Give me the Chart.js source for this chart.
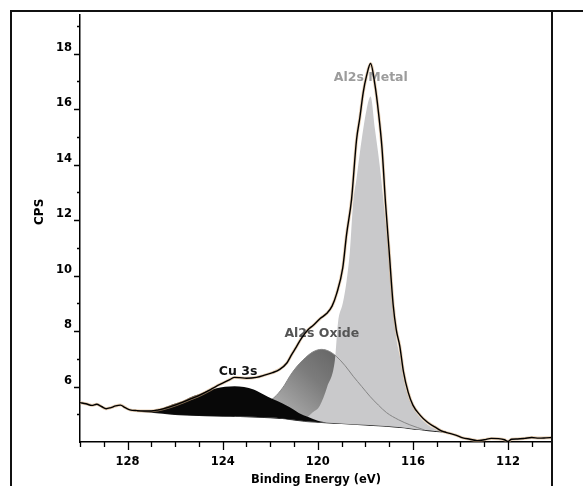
<!DOCTYPE html>
<html>
<head>
<meta charset="utf-8">
<script src="https://cdn.jsdelivr.net/npm/chart.js@4.4.1/dist/chart.umd.min.js"></script>
<style>
  html, body { margin: 0; padding: 0; background: #fff; }
  canvas { display: block; }
</style>
</head>
<body>
<canvas id="xps" width="583" height="486"></canvas>
<script>
// binding energy (eV) against counts (CPS)
const envelopeEV = [130.0, 129.75, 129.5, 129.3, 129.1, 128.9, 128.7, 128.5, 128.3, 128.1, 127.9, 127.6, 127.3, 127.0,
  126.7, 126.4, 126.1, 125.7, 125.3, 124.9, 124.6, 124.27, 124.0, 123.7, 123.5, 123.28, 123.0, 122.58, 122.2, 121.9,
  121.6, 121.3, 121.1, 120.9, 120.69, 120.41, 120.2, 119.9, 119.63, 119.4, 119.21, 118.95, 118.79, 118.58, 118.37,
  118.23, 118.09, 117.95, 117.78, 117.6, 117.45, 117.3, 117.15, 117.0, 116.83, 116.7, 116.55, 116.4, 116.2, 116.0,
  115.7, 115.4, 115.0, 114.8, 114.5, 114.2, 113.9, 113.6, 113.3, 113.0, 112.7, 112.4, 112.15, 112.0, 111.85, 111.6,
  111.3, 111.0, 110.7, 110.4, 110.15];
const envelopeCPS = [5.42, 5.38, 5.32, 5.36, 5.28, 5.2, 5.24, 5.3, 5.33, 5.24, 5.16, 5.13, 5.12, 5.12,
  5.16, 5.22, 5.3, 5.43, 5.57, 5.72, 5.85, 6.01, 6.12, 6.25, 6.33, 6.32, 6.3, 6.33, 6.42, 6.5,
  6.62, 6.85, 7.15, 7.43, 7.74, 8.05, 8.2, 8.45, 8.63, 8.9, 9.34, 10.28, 11.48, 12.75, 14.9,
  15.7, 16.6, 17.2, 17.65, 16.9, 15.9, 14.6, 12.6, 10.9, 8.95, 8.05, 7.45, 6.55, 5.8, 5.33,
  4.97, 4.72, 4.5, 4.4, 4.32, 4.25, 4.15, 4.1, 4.05, 4.08, 4.13, 4.12, 4.08, 4.02, 4.1, 4.11,
  4.13, 4.16, 4.14, 4.15, 4.16];

const backgroundEV = [127.6, 127.0, 126.5, 126.0, 125.0, 124.0, 123.0, 122.0, 121.5, 121.0, 120.5, 120.0, 119.0,
  118.0, 117.0, 116.5, 116.0, 115.5, 115.0, 114.6];
const backgroundCPS = [5.12, 5.08, 5.04, 5.0, 4.96, 4.94, 4.92, 4.88, 4.85, 4.8, 4.75, 4.72, 4.67,
  4.62, 4.57, 4.53, 4.48, 4.43, 4.39, 4.36];

const cuEV = [127.6, 127.0, 126.6, 126.1, 125.68, 125.4, 125.0, 124.69, 124.3, 123.9, 123.5, 123.1, 122.7, 122.3,
  121.9, 121.5, 121.18, 120.8, 120.4, 120.0, 119.5];
const cuCPS = [5.12, 5.14, 5.2, 5.36, 5.48, 5.6, 5.72, 5.83, 5.93, 5.99, 6.01, 5.98, 5.89, 5.72,
  5.55, 5.4, 5.25, 5.05, 4.9, 4.77, 4.69];

const oxideEV = [123.5, 123.28, 123.0, 122.6, 122.2, 121.74, 121.4, 121.18, 120.9, 120.62, 120.2, 119.84, 119.5,
  119.21, 118.85, 118.51, 118.15, 117.81, 117.45, 117.11, 116.6, 116.13, 115.5];
const oxideCPS = [4.93, 5.0, 5.07, 5.2, 5.38, 5.68, 6.05, 6.37, 6.7, 6.96, 7.25, 7.34, 7.26,
  7.08, 6.75, 6.37, 6.0, 5.65, 5.33, 5.06, 4.8, 4.62, 4.43];

const metalEV = [120.6, 120.21, 119.92, 119.6, 119.28, 119.15, 118.95, 118.79, 118.65, 118.51, 118.37, 118.23,
  117.95, 117.78, 117.6, 117.4, 117.25, 117.1, 116.95, 116.83, 116.69, 116.55, 116.41, 116.2, 116.0, 115.7,
  115.42, 115.0, 114.8];
const metalCPS = [4.76, 5.07, 5.3, 6.0, 6.96, 8.3, 9.0, 9.8, 10.88, 12.66, 13.5, 14.43,
  15.98, 16.46, 15.3, 14.0, 12.8, 11.5, 10.2, 8.8, 7.7, 7.1, 6.35, 5.65, 5.25, 4.88,
  4.65, 4.44, 4.38];

const peakNames = ["Cu 3s", "Al2s Oxide", "Al2s Metal"];
const peakNameEV = [123.35, 119.83, 117.77];
const peakNameCPS = [6.53, 7.92, 17.12];
const peakNameColors = ["#111", "#555", "#9c9c9c"];

const xMajorStep = 4;
const yMajorStep = 2;

const FONT = "'DejaVu Sans', Verdana, sans-serif";

function toPoints(ev, cps) {
  return ev.map((e, i) => ({ x: e, y: cps[i] }));
}

function oxideShade(ctx) {
  const chart = ctx.chart;
  if (!chart.chartArea) return "#888";
  const xs = chart.scales.x;
  const ys = chart.scales.y;
  const g = chart.ctx.createLinearGradient(
    xs.getPixelForValue(121.8), ys.getPixelForValue(5.0),
    xs.getPixelForValue(119.3), ys.getPixelForValue(7.3));
  g.addColorStop(0, "#b2b2b2");
  g.addColorStop(0.6, "#7c7c7c");
  g.addColorStop(1, "#666666");
  return g;
}

// tick marks: long at majors, short in between
const tickMarks = {
  id: "tickMarks",
  afterDraw(chart) {
    const ctx = chart.ctx;
    const xs = chart.scales.x;
    const ys = chart.scales.y;
    const area = chart.chartArea;
    ctx.save();
    ctx.strokeStyle = "#000";
    ctx.lineWidth = 1.3;
    ctx.beginPath();
    xs.ticks.forEach((t) => {
      const px = Math.round(xs.getPixelForValue(t.value)) + 0.5;
      const len = t.value % xMajorStep === 0 ? 8 : 5;
      ctx.moveTo(px, area.bottom);
      ctx.lineTo(px, area.bottom + len);
    });
    ys.ticks.forEach((t) => {
      if (t.value <= ys.min) return;
      const py = Math.round(ys.getPixelForValue(t.value)) + 0.5;
      const len = t.value % yMajorStep === 0 ? 6 : 3;
      ctx.moveTo(area.left, py);
      ctx.lineTo(area.left - len, py);
    });
    ctx.stroke();
    ctx.restore();
  },
};

// peak names go on top of the fills but under the envelope line (dataset 0)
const peakLabels = {
  id: "peakLabels",
  beforeDatasetDraw(chart, args) {
    if (args.index !== 0) return;
    const ctx = chart.ctx;
    const xs = chart.scales.x;
    const ys = chart.scales.y;
    ctx.save();
    ctx.font = "bold 12.5px " + FONT;
    ctx.textAlign = "center";
    ctx.textBaseline = "middle";
    peakNames.forEach((name, i) => {
      ctx.fillStyle = peakNameColors[i];
      ctx.fillText(name, xs.getPixelForValue(peakNameEV[i]), ys.getPixelForValue(peakNameCPS[i]));
    });
    ctx.restore();
  },
};

// y title sits a little above the middle of the axis, as in the original
const yTitle = {
  id: "yTitle",
  afterDraw(chart) {
    const ctx = chart.ctx;
    const ys = chart.scales.y;
    ctx.save();
    ctx.font = "bold 12px " + FONT;
    ctx.fillStyle = "#000";
    ctx.textAlign = "center";
    ctx.textBaseline = "middle";
    ctx.translate(40, ys.getPixelForValue(12.3));
    ctx.rotate(-Math.PI / 2);
    ctx.fillText("CPS", 0, 0);
    ctx.restore();
  },
};

// outer box of the figure
const frame = {
  id: "frame",
  afterDraw(chart) {
    const ctx = chart.ctx;
    const area = chart.chartArea;
    ctx.save();
    ctx.strokeStyle = "#111";
    ctx.lineWidth = 2;
    ctx.beginPath();
    ctx.moveTo(11, chart.height);
    ctx.lineTo(11, 11);
    ctx.lineTo(chart.width, 11);
    ctx.moveTo(area.right, 11);
    ctx.lineTo(area.right, chart.height);
    ctx.stroke();
    ctx.restore();
  },
};

const none = "rgba(0,0,0,0)";
const BG = 6; // index of the background dataset, target of the fills

new Chart(document.getElementById("xps"), {
  type: "line",
  data: {
    datasets: [
      {
        label: "Envelope",
        data: toPoints(envelopeEV, envelopeCPS),
        borderColor: "#000",
        borderWidth: 1.4,
        fill: false,
      },
      {
        label: "Envelope halo",
        data: toPoints(envelopeEV, envelopeCPS),
        borderColor: "rgba(214, 175, 130, 0.6)",
        borderWidth: 3,
        fill: false,
      },
      {
        label: "Cu 3s",
        data: toPoints(cuEV, cuCPS),
        borderColor: none,
        borderWidth: 1,
        backgroundColor: "#080808",
        fill: BG,
      },
      {
        label: "Al2s Oxide outline",
        data: toPoints(oxideEV, oxideCPS),
        borderColor: "#858585",
        borderWidth: 1,
        fill: false,
      },
      {
        label: "Al2s Metal",
        data: toPoints(metalEV, metalCPS),
        borderColor: none,
        borderWidth: 1,
        backgroundColor: "#c9c9cb",
        fill: BG,
      },
      {
        label: "Al2s Oxide",
        data: toPoints(oxideEV, oxideCPS),
        borderColor: none,
        borderWidth: 1,
        backgroundColor: oxideShade,
        fill: BG,
      },
      {
        label: "Background",
        data: toPoints(backgroundEV, backgroundCPS),
        borderColor: "#1a1a1a",
        borderWidth: 1.4,
        fill: false,
      },
    ],
  },
  options: {
    responsive: false,
    animation: false,
    devicePixelRatio: 1,
    elements: {
      point: { radius: 0 },
      line: { cubicInterpolationMode: "monotone" },
    },
    layout: { padding: { left: 0, top: 12, right: 31, bottom: 0 } },
    plugins: {
      legend: { display: false },
      tooltip: { enabled: false },
    },
    scales: {
      x: {
        type: "linear",
        reverse: true,
        min: 110.15,
        max: 130,
        afterFit(scale) {
          scale.height = 44;
        },
        grid: { display: false, drawTicks: false },
        border: { display: true, color: "#000", width: 1.5 },
        ticks: {
          stepSize: 1,
          includeBounds: false,
          autoSkip: false,
          maxRotation: 0,
          padding: 13,
          color: "#000",
          font: { family: FONT, size: 11.5, weight: "bold" },
          callback: (v) => (v % xMajorStep === 0 ? String(v) : ""),
        },
        title: {
          display: true,
          text: "Binding Energy (eV)",
          color: "#000",
          font: { family: FONT, size: 11.5, weight: "bold", lineHeight: 1 },
          padding: { top: 0, bottom: 0.5 },
        },
      },
      y: {
        type: "linear",
        min: 4,
        max: 19.4,
        afterFit(scale) {
          scale.width = 80;
        },
        grid: { display: false, drawTicks: false },
        border: { display: true, color: "#000", width: 1.5 },
        ticks: {
          stepSize: 1,
          includeBounds: false,
          autoSkip: false,
          padding: 8,
          labelOffset: -6,
          color: "#000",
          font: { family: FONT, size: 11.5, weight: "bold" },
          callback: (v) => (v % yMajorStep === 0 && v >= 6 ? String(v) : ""),
        },
        title: { display: false },
      },
    },
  },
  plugins: [peakLabels, tickMarks, yTitle, frame],
});
</script>
</body>
</html>
